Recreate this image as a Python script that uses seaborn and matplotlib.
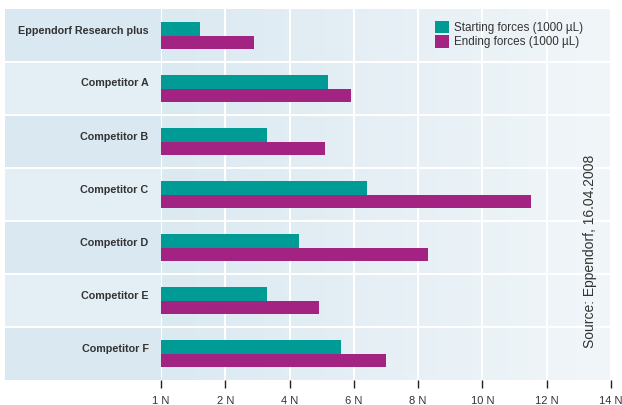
import numpy as np
import pandas as pd
import matplotlib
matplotlib.use("Agg")
import matplotlib.pyplot as plt
import seaborn as sns
from matplotlib.patches import Patch
from matplotlib.colors import LinearSegmentedColormap
from matplotlib.transforms import ScaledTranslation

categories = ["Eppendorf Research plus", "Competitor A", "Competitor B", "Competitor C",
              "Competitor D", "Competitor E", "Competitor F"]
starting = [1.2, 5.2, 3.3, 6.4, 4.3, 3.3, 5.6]
ending = [2.9, 5.9, 5.1, 11.5, 8.3, 4.9, 7.0]
series = ["Starting forces (1000 µL)", "Ending forces (1000 µL)"]
xticks = [0, 2, 4, 6, 8, 10, 12, 14]
xticklabels = ["1 N", "2 N", "4 N", "6 N", "8 N", "10 N", "12 N", "14 N"]
source = "Source: Eppendorf, 16.04.2008"

colors = ["#009B94", "#A32383"]

df = pd.DataFrame({
    "cat": categories * 2,
    "series": [series[0]] * len(categories) + [series[1]] * len(categories),
    "val": starting + ending,
})

sns.set_style("white")
plt.rcParams["font.family"] = ["Liberation Sans", "DejaVu Sans"]

W, H = 622, 405
fig = plt.figure(figsize=(W / 100, H / 100), dpi=100)

top_px, bot_px = 9, 380
left_px, right_px = 161, 611
panel_left = 5

# left label panel
axp = fig.add_axes([panel_left / W, (H - bot_px) / H, (left_px - panel_left) / W, (bot_px - top_px) / H])
axp.set_xlim(0, 1)
axp.set_ylim(len(categories) - 0.5, -0.5)
for i in range(len(categories)):
    axp.axhspan(i - 0.5, i + 0.5, color="#d9e8f1" if i % 2 == 0 else "#e3eef5", lw=0)
for i in range(1, len(categories)):
    axp.axhline(i - 0.5, color="white", lw=1.5)
axp.axis("off")

ax = fig.add_axes([left_px / W, (H - bot_px) / H, (right_px - left_px) / W, (bot_px - top_px) / H])
ax.set_facecolor("none")

# gradient background
grad = np.linspace(0, 1, 256)[None, :]
cmap = LinearSegmentedColormap.from_list("bg", ["#dbe9f1", "#f1f6f9"])
ax.imshow(grad, cmap=cmap, aspect="auto", extent=[0, 14, len(categories) - 0.5, -0.5], zorder=0)

sns.barplot(data=df, x="val", y="cat", hue="series", order=categories, hue_order=series,
            palette=colors, orient="h", width=0.51, saturation=1, ax=ax, zorder=3,
            edgecolor="none", linewidth=0)

ax.set_xlim(0, 14)
ax.set_ylim(len(categories) - 0.5, -0.5)
for x in xticks:
    ax.axvline(x, color="white", lw=1.5, zorder=1)
for i in range(1, len(categories)):
    ax.axhline(i - 0.5, color="white", lw=1.5, zorder=1)

for s in ax.spines.values():
    s.set_visible(False)

ax.set_xticks(xticks)
ax.set_xticklabels(xticklabels, fontsize=8, color="#333333")
ax.tick_params(axis="x", direction="out", length=5.5, width=1, color="#222222", pad=6, bottom=True)
ax.tick_params(axis="y", length=0, pad=9)
ax.set_yticks(range(len(categories)))
ax.set_yticklabels(categories, fontsize=7.75, fontweight="bold", color="#333333")
off = ScaledTranslation(0, 6 / 100, fig.dpi_scale_trans)
for lbl in ax.get_yticklabels():
    lbl.set_transform(lbl.get_transform() + off)
ax.set_xlabel("")
ax.set_ylabel("")

ax.text(13.35, 4.08, source, rotation=90, ha="center", va="center", fontsize=10,
        color="#333333", zorder=5)

handles = [Patch(facecolor=c, edgecolor="none") for c in colors]
ax.legend(handles, series, loc="upper left", bbox_to_anchor=(0.608, 0.968), frameon=False,
          fontsize=8.4, handlelength=1.25, handleheight=1.25, handletextpad=0.45,
          labelspacing=0.12, borderaxespad=0, borderpad=0, labelcolor="#333333")

fig.savefig("out.png", dpi=100)
